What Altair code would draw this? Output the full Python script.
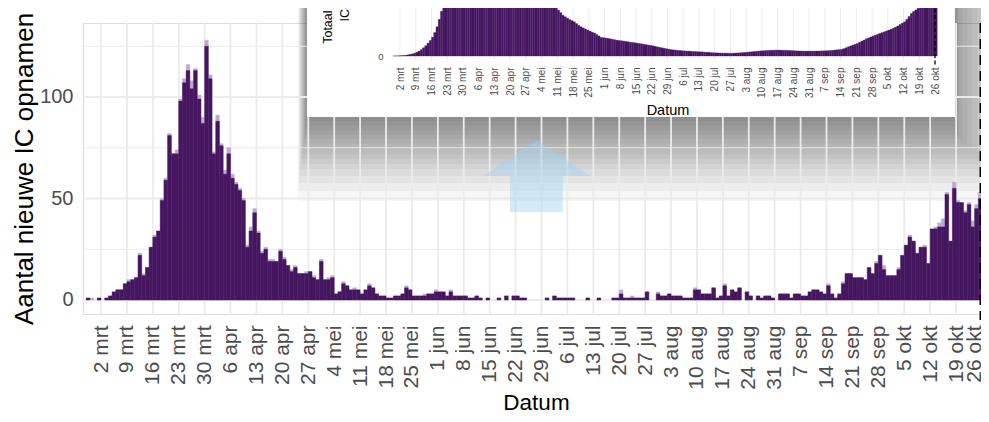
import json
import altair as alt
import pandas as pd

# ---------------- text / categories ----------------
FONT = "Liberation Sans"
MONTHS_NL = ["jan", "feb", "mrt", "apr", "mei", "jun", "jul", "aug", "sep", "okt", "nov", "dec"]
MAIN_Y_TITLE = "Aantal nieuwe IC opnamen"
X_TITLE = "Datum"
INSET_Y_TITLE = ["Totaal aantal COVID-19", "IC-patiënten NL"]
FIRST_DAY = "2020-02-27"
CUTOFF_DAY = "2020-10-26"            # dashed line in the inset
CUTOFF_MAIN = "2020-10-25 15:00"     # dashed line in the main panel (drawn at the bar edge)
TICK_FIRST, TICK_LAST = "2020-03-02", "2020-10-26"
Y_GRID = [0, 25, 50, 75, 100, 125]
Y_LABELS = [0, 50, 100]
INSET_Y_LABELS = [0, 500, 1000]

# ---------------- data: new IC admissions per day (dark part) ----------------
new_feb = [1, 0, 0]
new_mar = [1, 0, 1, 2, 4, 5, 5, 8, 9, 10, 11, 22, 12, 16, 26, 31, 34, 49, 59, 81,
           72, 72, 98, 107, 113, 104, 113, 99, 87, 125, 109]
new_apr = [72, 88, 76, 62, 72, 60, 57, 54, 49, 26, 34, 43, 33, 23, 25, 19, 19, 19, 24, 20,
           17, 14, 16, 13, 13, 13, 14, 11, 10, 19]
new_may = [10, 10, 11, 3, 4, 8, 7, 5, 5, 5, 3, 5, 7, 6, 3, 2, 2, 1, 1, 2,
           2, 3, 6, 5, 2, 2, 2, 2, 3, 3, 4]
new_jun = [4, 4, 2, 4, 2, 2, 2, 2, 1, 1, 2, 1, 0, 1, 0, 0, 1, 0, 2, 0,
           2, 2, 1, 1, 0, 0, 0, 0, 0, 1]
new_jul = [0, 2, 1, 1, 1, 1, 1, 0, 0, 0, 1, 0, 0, 1, 0, 0, 0, 1, 1, 3,
           1, 1, 1, 1, 1, 1, 4, 0, 0, 3, 2]
new_aug = [2, 3, 2, 2, 2, 1, 1, 1, 5, 5, 3, 3, 3, 6, 1, 2, 7, 2, 5, 4,
           6, 0, 4, 2, 0, 2, 1, 2, 2, 1, 0]
new_sep = [3, 3, 3, 1, 3, 3, 2, 2, 4, 5, 5, 4, 3, 7, 3, 1, 3, 8, 13, 13,
           11, 11, 11, 10, 16, 13, 18, 22, 15, 12]
new_oct = [12, 12, 15, 22, 27, 31, 29, 23, 26, 26, 18, 35, 35, 36, 36, 52, 29, 55, 48, 48,
           43, 47, 36, 45, 50, 6]

# light top part of the bars (later reported admissions)
ext_feb = [0, 1, 0]
ext_mar = [0, 0, 0, 0, 0, 0, 0, 0, 1, 0, 0, 1, 1, 0, 0, 1, 0, 1, 1, 1,
           0, 2, 1, 2, 3, 4, 1, 2, 3, 3, 2]
ext_apr = [1, 3, 1, 2, 3, 2, 1, 1, 1, 1, 2, 2, 1, 1, 1, 1, 1, 0, 1, 1,
           0, 1, 1, 0, 0, 1, 0, 1, 0, 1]
ext_may = [0, 1, 1, 0, 0, 1, 0, 0, 1, 0, 0, 0, 1, 0, 0, 0, 0, 0, 0, 0,
           0, 0, 1, 0, 0, 0, 0, 1, 0, 0, 1]
ext_jun = [0, 0, 0, 1, 0, 0, 0, 0, 0, 0, 0, 0, 0, 0, 0, 0, 0, 0, 0, 0,
           0, 0, 0, 0, 0, 0, 0, 0, 0, 0]
ext_jul = [0, 0, 0, 0, 0, 0, 0, 0, 0, 0, 0, 0, 0, 0, 0, 0, 0, 0, 0, 2,
           0, 0, 1, 0, 0, 0, 0, 0, 0, 1, 0]
ext_aug = [0, 0, 0, 0, 0, 0, 0, 0, 1, 0, 0, 0, 0, 0, 0, 0, 1, 0, 0, 0,
           0, 0, 0, 0, 0, 0, 0, 0, 0, 0, 0]
ext_sep = [0, 0, 0, 0, 0, 0, 0, 0, 0, 0, 0, 0, 0, 1, 0, 0, 0, 1, 0, 0,
           0, 0, 0, 0, 0, 0, 1, 0, 2, 0]
ext_oct = [0, 0, 1, 0, 0, 1, 0, 0, 0, 1, 0, 0, 1, 2, 4, 1, 0, 3, 1, 0,
           1, 1, 3, 2, 3, 1]

# inset: total IC occupancy per day
occ_feb = [0, 1, 1]
occ_mar = [2, 3, 5, 7, 10, 14, 19, 25, 33, 43, 56, 72, 90, 112, 136, 165, 205, 255, 320, 390,
           465, 545, 620, 700, 780, 860, 935, 1000, 1060, 1120, 1175]
occ_apr = [1220, 1255, 1285, 1305, 1320, 1335, 1340, 1335, 1325, 1310, 1290, 1270, 1245, 1215,
           1185, 1150, 1115, 1080, 1045, 1010, 975, 940, 905, 870, 840, 810, 780, 750, 720, 690]
occ_may = [660, 630, 600, 570, 540, 515, 495, 475, 458, 430, 400, 378, 356, 342, 330, 318, 308,
           298, 283, 268, 255, 245, 235, 226, 217, 208, 200, 188, 175, 162, 160]
occ_jun = [157, 154, 150, 146, 142, 138, 135, 133, 130, 127, 124, 120, 118, 116, 112, 109, 106,
           102, 99, 96, 93, 89, 85, 80, 76, 72, 68, 64, 60, 56]
occ_jul = [54, 52, 50, 48, 46, 45, 44, 43, 41, 40, 39, 38, 37, 36, 34, 33, 32, 30, 29, 28,
           27, 26, 26, 25, 25, 24, 24, 25, 26, 27, 29]
occ_aug = [30, 31, 33, 35, 37, 39, 41, 43, 45, 46, 47, 48, 49, 50, 51, 52, 52, 51, 50, 50,
           49, 48, 47, 46, 45, 44, 44, 43, 43, 43, 43]
occ_sep = [43, 43, 44, 44, 45, 45, 46, 47, 48, 50, 52, 54, 56, 58, 64, 72, 81, 88, 95, 102,
           110, 120, 130, 140, 150, 158, 166, 174, 182, 190]
occ_oct = [197, 204, 211, 219, 226, 234, 243, 252, 262, 275, 287, 298, 320, 345, 371, 388,
           402, 416, 429, 444, 459, 473, 487, 510, 535, 560]

new_ic = new_feb + new_mar + new_apr + new_may + new_jun + new_jul + new_aug + new_sep + new_oct
extra = ext_feb + ext_mar + ext_apr + ext_may + ext_jun + ext_jul + ext_aug + ext_sep + ext_oct
occ = occ_feb + occ_mar + occ_apr + occ_may + occ_jun + occ_jul + occ_aug + occ_sep + occ_oct

# ---------------- styles ----------------
DARK = "#461661"
LIGHT = "#BBAACF"
GRID = "#EBEBEB"
ARROW = "#9FD3F5"
LABEL_GREY = "#4D4D4D"
W, H = 906, 291


def ms(ts):
    return int(pd.Timestamp(ts).value // 10**6)


days = pd.date_range(FIRST_DAY, periods=len(new_ic), freq="D")
df = pd.DataFrame({
    "start": [ms(d) for d in days],
    "end": [ms(d + pd.Timedelta(days=1)) for d in days],
    "v": new_ic,
    "top": [a + b for a, b in zip(new_ic, extra)],
    "occ": occ,
})
ticks = pd.date_range(TICK_FIRST, TICK_LAST, freq="7D")
tick_ms = [ms(t) for t in ticks]
tick_df = pd.DataFrame({"start": tick_ms})
cut_df = pd.DataFrame({"start": [ms(CUTOFF_DAY)]})
cut_main_df = pd.DataFrame({"start": [ms(CUTOFF_MAIN)]})
ygrid_df = pd.DataFrame({"v": Y_GRID})
one = pd.DataFrame({"k": [0]})

label_expr = "utcdate(datum.value) + ' ' + " + json.dumps(MONTHS_NL) + "[utcmonth(datum.value)]"
# keep the last main tick label inside the picture edge
last_label_offset = {"condition": {"test": f"datum.value >= {ms(TICK_LAST)}", "value": -8}, "value": 0}

# ---------------- main chart encodings ----------------
x_scale_main = alt.Scale(type="utc", domain=[ms("2020-02-26 03:17"), ms("2020-10-27 21:23")])
x_axis_main = alt.Axis(values=tick_ms, labelExpr=label_expr, labelAngle=270, labelFontSize=21,
                       labelColor=LABEL_GREY, labelPadding=11, labelOverlap=False, labelFlush=False,
                       labelOffset=last_label_offset,
                       grid=False, ticks=False, domain=False, title=X_TITLE, titleFontSize=22.5,
                       titleFontWeight="normal", titleColor="#000000", titlePadding=2,
                       titleX=(536 - 83))
y_scale_main = alt.Scale(domain=[-6.9, 136.45], nice=False, zero=False)
y_axis_main = alt.Axis(values=Y_LABELS, labelFontSize=20, labelColor=LABEL_GREY, labelPadding=10,
                       grid=False, ticks=False, domain=False, title=MAIN_Y_TITLE, titleFontSize=26,
                       titleFontWeight="normal", titleColor="#000000", titlePadding=2)


def xm(field):
    return alt.X(f"{field}:T", scale=x_scale_main, axis=x_axis_main)


def ym(field):
    return alt.Y(f"{field}:Q", scale=y_scale_main, axis=y_axis_main)


# drop shadow of the inset (decoration)
shadow_left = [0.6 * k for k in range(1, 16)]
shadow_right = [1, 2, 3, 4, 7, 12, 17, 22, 27, 33, 39, 45, 51, 57, 63]
shadow_bottom = [4, 9, 13, 18, 22, 27, 32, 37, 42, 47, 52, 59, 66, 74, 84]
BOX_L, BOX_R, BOX_B = 224, 872, 94
shadows = [
    alt.Chart(one).mark_rect(color="#000000", opacity=0.037).encode(
        x=alt.value(BOX_L - a), x2=alt.value(BOX_R + r), y=alt.value(-60), y2=alt.value(BOX_B + d))
    for a, r, d in zip(shadow_left, shadow_right, shadow_bottom)
]

vgrid = alt.Chart(tick_df).mark_rule(color=GRID, strokeWidth=1.8).encode(
    x=xm("start"), y=alt.value(0), y2=alt.value(H))
hgrid = alt.Chart(ygrid_df).mark_rule(color=GRID).encode(
    x=alt.value(0), x2=alt.value(W), y=ym("v"),
    size=alt.condition("datum.v % 50 == 0", alt.value(1.8), alt.value(1.0)))

bars_light = alt.Chart(df).transform_filter("datum.top > 0").mark_bar(
    color=LIGHT, stroke=LIGHT, strokeWidth=0.4).encode(
    x=xm("start"), x2=alt.X2("end"), y=ym("top"), y2=alt.datum(0))
bars_dark = alt.Chart(df).transform_filter("datum.v > 0").mark_bar(
    color=DARK, stroke=DARK, strokeWidth=0.4).encode(
    x=xm("start"), x2=alt.X2("end"), y=ym("v"), y2=alt.datum(0))

arrow_shaft = alt.Chart(one).mark_rect(color=ARROW, opacity=0.45).encode(
    x=alt.value(427), x2=alt.value(480), y=alt.value(153), y2=alt.value(189))
arrow_head = alt.Chart(one).mark_point(
    shape="M-1,0.336L0,-0.336L1,0.336Z", filled=True, size=11449, color=ARROW,
    opacity=0.45, strokeWidth=0).encode(x=alt.value(453.5), y=alt.value(135))

main_dash = alt.Chart(cut_main_df).mark_rule(color="#000000", strokeWidth=2.2, strokeDash=[10, 6]).encode(
    x=xm("start"), y=alt.value(0), y2=alt.value(297))

inset_box = alt.Chart(one).mark_rect(color="#FFFFFF").encode(
    x=alt.value(BOX_L), x2=alt.value(BOX_R), y=alt.value(-60), y2=alt.value(BOX_B))

main_layer = alt.layer(*shadows, vgrid, hgrid, bars_light, bars_dark, arrow_shaft, arrow_head,
                       main_dash, inset_box)

# ---------------- inset ----------------
x_scale_in = alt.Scale(type="utc", domain=[ms(TICK_FIRST), ms(TICK_LAST)], range=[317, 852])
x_axis_in = alt.Axis(orient="bottom", offset=-255, values=tick_ms, labelExpr=label_expr,
                     labelAngle=270, labelFontSize=10, labelColor=LABEL_GREY, labelPadding=8,
                     labelOverlap=False, labelFlush=False, grid=False, ticks=False, domain=False,
                     title=X_TITLE, titleFontSize=14.5, titleFontWeight="normal",
                     titleColor="#000000", titlePadding=6, zindex=1)
y_scale_in = alt.Scale(domain=[-25, 1420], range=[35.9, -129.9], nice=False, zero=False)
y_axis_in = alt.Axis(orient="left", offset=-305, values=INSET_Y_LABELS, labelFontSize=9.5,
                     labelColor=LABEL_GREY, labelPadding=5, grid=False, ticks=False, domain=False,
                     title=INSET_Y_TITLE, titleFontSize=12.5, titleFontWeight="normal",
                     titleColor="#000000", titleLineHeight=17, titleBaseline="middle",
                     titleAlign="center", titleAngle=270, titleX=-60.5, titleY=-45.7, zindex=1)


def xi(field):
    return alt.X(f"{field}:T", scale=x_scale_in, axis=x_axis_in)


inset_grid = alt.Chart(tick_df).mark_rule(color=GRID, strokeWidth=1).encode(
    x=xi("start"), y=alt.value(-60), y2=alt.value(38))
inset_bars = alt.Chart(df).transform_filter("datum.occ > 0").mark_bar(
    color=DARK, stroke=DARK, strokeWidth=0.3).encode(
    x=xi("start"), x2=alt.X2("end"),
    y=alt.Y("occ:Q", scale=y_scale_in, axis=y_axis_in), y2=alt.datum(0))
inset_dash = alt.Chart(cut_df).mark_rule(color="#000000", strokeWidth=1.3, strokeDash=[4, 2.5]).encode(
    x=xi("start"), y=alt.value(-60), y2=alt.value(42))

inset_layer = alt.layer(inset_grid, inset_bars, inset_dash)

chart = alt.layer(main_layer, inset_layer).resolve_scale(
    x="independent", y="independent"
).properties(
    width=W, height=H,
    padding={"left": 75, "top": 15, "right": -8, "bottom": 100},
    autosize=alt.AutoSizeParams(type="none"),
    background="#FFFFFF",
).configure_view(strokeWidth=0).configure(font=FONT).configure_axis(
    labelFont=FONT, titleFont=FONT)

chart.save("out.html", embed_options={"renderer": "svg", "actions": False})
